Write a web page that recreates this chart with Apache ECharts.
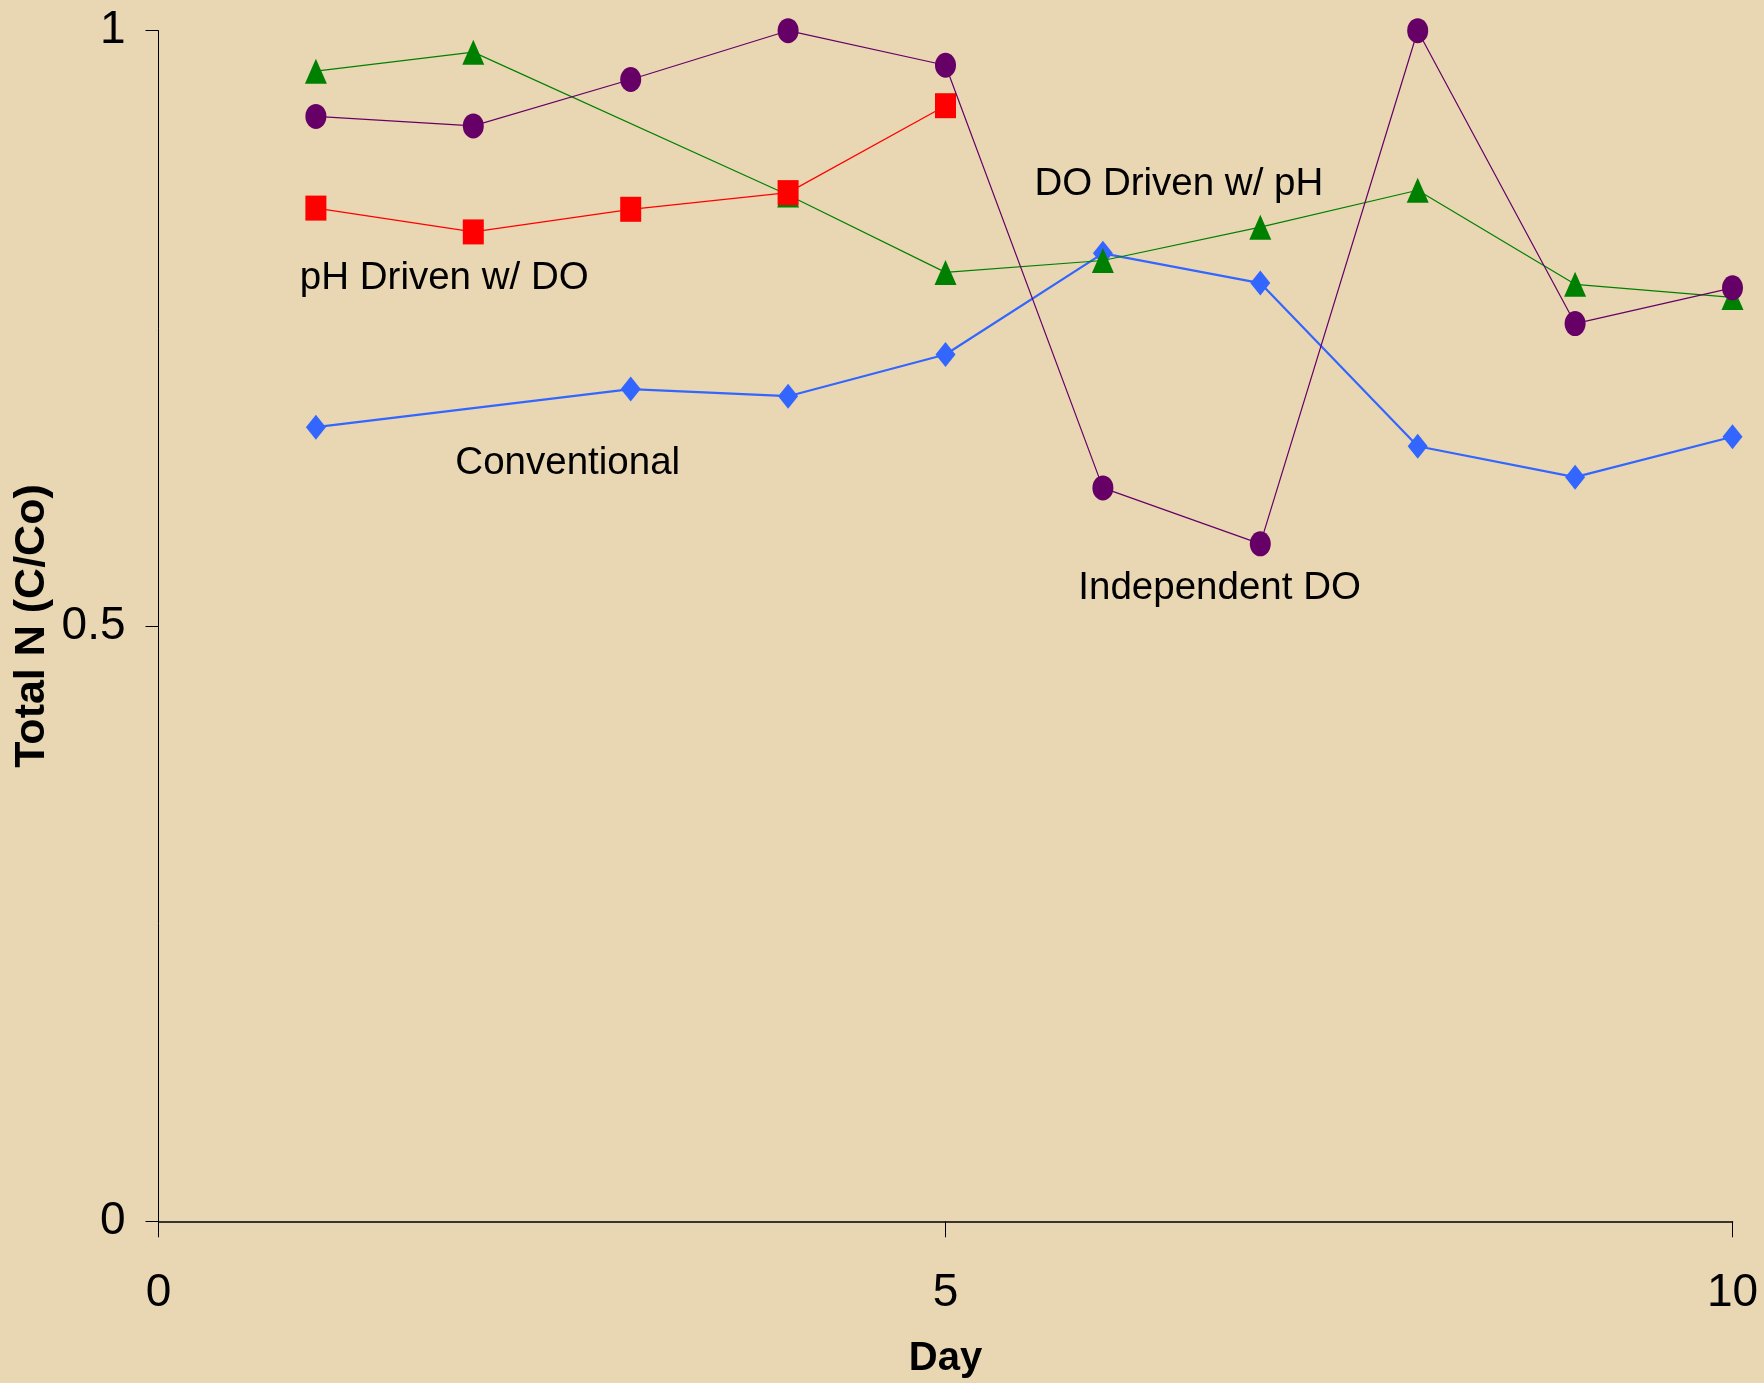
<!DOCTYPE html>
<html>
<head>
<meta charset="utf-8">
<script src="https://cdn.jsdelivr.net/npm/echarts@6/dist/echarts.min.js"></script>
<style>
html,body{margin:0;padding:0;background:#E9D7B3;}
#chart{width:1764px;height:1383px;}
</style>
</head>
<body>
<div id="chart"></div>
<script>
// Data
const convDays = [1, 3, 4, 5, 6, 7, 8, 9, 10];
const convVals = [0.667, 0.699, 0.693, 0.728, 0.813, 0.788, 0.651, 0.625, 0.659];
const indDays = [1, 2, 3, 4, 5, 6, 7, 8, 9, 10];
const indVals = [0.928, 0.920, 0.959, 1.000, 0.971, 0.616, 0.569, 1.000, 0.754, 0.784];
const doDays = [1, 2, 4, 5, 6, 7, 8, 9, 10];
const doVals = [0.966, 0.982, 0.862, 0.797, 0.807, 0.835, 0.866, 0.787, 0.776];
const phDays = [1, 2, 3, 4, 5];
const phVals = [0.851, 0.831, 0.850, 0.864, 0.937];
const xTicks = [0, 5, 10];
const yTicks = [0, 0.5, 1];
const labelTexts = ['pH Driven w/ DO', 'Conventional', 'DO Driven w/ pH', 'Independent DO'];

// Annotation anchors (data coordinates, left-middle of text)
const labelAnchors = [[0.898, 0.792], [1.886, 0.6365], [5.565, 0.871], [5.844, 0.532]];

function pairs(xs, ys) { return xs.map((x, i) => [x, ys[i]]); }

const baseFont = '"Liberation Sans", Arial, sans-serif';
const chart = echarts.init(document.getElementById('chart'), null, {renderer: 'canvas'});
const option = {
  backgroundColor: '#E9D7B3',
  animation: false,
  grid: {left: 158.5, right: 31.5, top: 30.7, bottom: 161.7, containLabel: false, outerBoundsMode: 'none'},
  xAxis: {
    type: 'value', min: 0, max: 10, interval: 5,
    name: 'Day', nameLocation: 'middle', nameGap: 118, nameMoveOverlap: false,
    nameTextStyle: {fontFamily: baseFont, fontWeight: 'bold', fontSize: 40, color: '#000'},
    axisLine: {show: true, onZero: false, lineStyle: {color: '#000', width: 1.5}},
    axisTick: {show: true, length: 16, lineStyle: {color: '#000', width: 1}},
    axisLabel: {fontFamily: baseFont, fontSize: 46, color: '#000', margin: 49,
      formatter: v => xTicks.includes(v) ? String(v) : ''},
    splitLine: {show: false}
  },
  yAxis: {
    type: 'value', min: 0, max: 1, interval: 0.5,
    name: 'Total N (C/Co)', nameLocation: 'middle', nameGap: 105, nameRotate: 90, nameMoveOverlap: false,
    nameTextStyle: {fontFamily: baseFont, fontWeight: 'bold', fontSize: 43, color: '#000'},
    axisLine: {show: true, onZero: false, lineStyle: {color: '#000', width: 1}},
    axisTick: {show: true, length: 13, lineStyle: {color: '#000', width: 1}},
    axisLabel: {fontFamily: baseFont, fontSize: 46, color: '#000', margin: 33,
      formatter: v => yTicks.includes(v) ? String(v) : ''},
    splitLine: {show: false}
  },
  series: [
    {name: 'Conventional', type: 'line', data: pairs(convDays, convVals),
     symbol: 'diamond', symbolSize: [20, 25],
     itemStyle: {color: '#3366FF'}, lineStyle: {color: '#3366FF', width: 2.2}, z: 2},
    {name: 'DO Driven w/ pH', type: 'line', data: pairs(doDays, doVals),
     symbol: 'triangle', symbolSize: [22, 25],
     itemStyle: {color: '#008000'}, lineStyle: {color: '#008000', width: 1.2}, z: 3},
    {name: 'pH Driven w/ DO', type: 'line', data: pairs(phDays, phVals),
     symbol: 'rect', symbolSize: [21, 25],
     itemStyle: {color: '#FF0000'}, lineStyle: {color: '#FF0000', width: 1.2}, z: 4},
    {name: 'Independent DO', type: 'line', data: pairs(indDays, indVals),
     symbol: 'circle', symbolSize: [21, 25],
     itemStyle: {color: '#660066'}, lineStyle: {color: '#660066', width: 1.2}, z: 5}
  ]
};
chart.setOption(option);

const graphics = labelTexts.map((t, i) => {
  const p = chart.convertToPixel({gridIndex: 0}, labelAnchors[i]);
  return {
    type: 'text', x: p[0], y: p[1], z: 100,
    style: {text: t, x: 0, y: 0, fill: '#000', fontSize: 38.5,
      fontFamily: baseFont, textAlign: 'left', textVerticalAlign: 'middle'}
  };
});
chart.setOption({graphic: graphics});
</script>
</body>
</html>
